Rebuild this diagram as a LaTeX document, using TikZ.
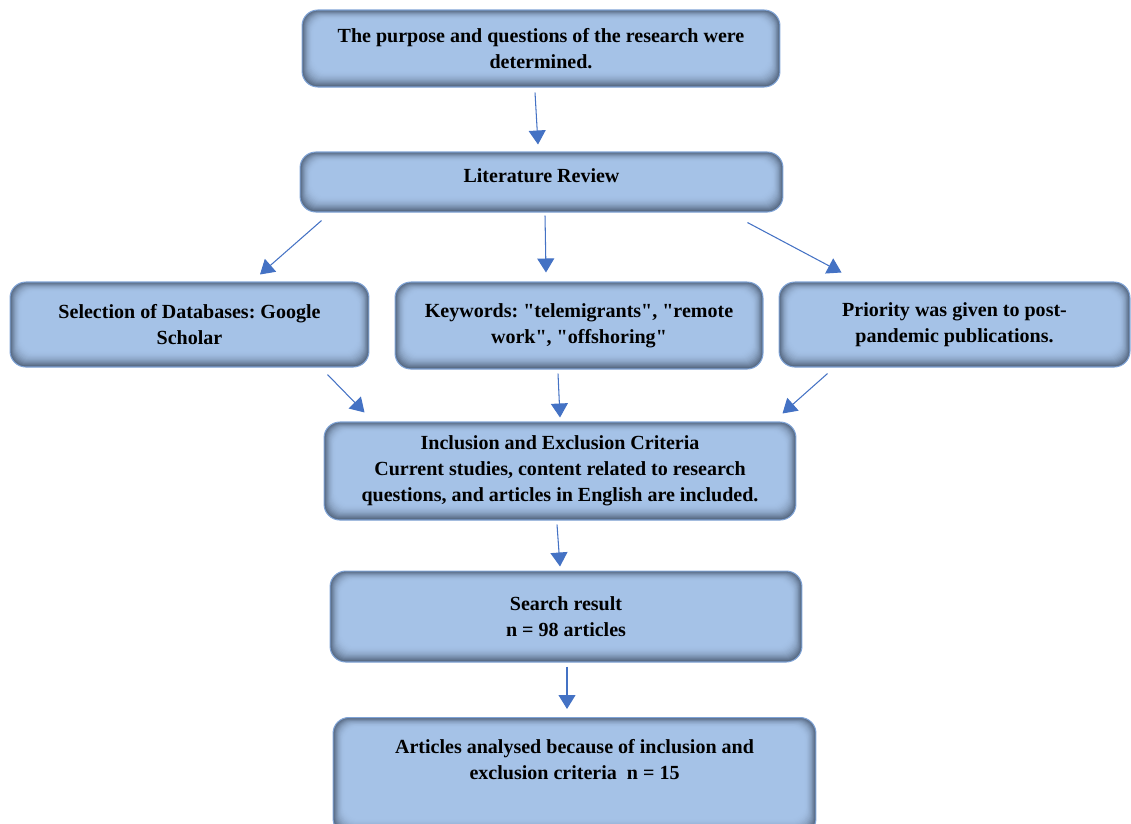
\documentclass[tikz,border=0pt]{standalone}
\usepackage{fontspec}
\setmainfont{Liberation Serif}
\usepackage{tikz}
\usetikzlibrary{arrows.meta}
\frenchspacing

\definecolor{boxfill}{HTML}{A5C2E7}
\definecolor{boxedge}{HTML}{4F6078}
\definecolor{boxline}{HTML}{7FA3D6}
\definecolor{arrowblue}{HTML}{4472C4}

\begin{document}
\begin{tikzpicture}[
  x=0.02cm, y=-0.02cm,
  stepbox/.style={draw=boxline, line width=0.6pt, rounded corners=9pt, fill=boxedge,
    align=center, font=\fontsize{11.4}{14.8}\selectfont\bfseries, inner sep=4pt,
    path picture={
      \foreach \k [evaluate=\k as \pc using int(100*(1-(1-\k/16)^2))] in {1,...,16}
        \fill[boxfill!\pc!boxedge, rounded corners=8pt]
          ([shift={({\k*0.4pt},{-\k*0.34pt})}]path picture bounding box.north west) rectangle
          ([shift={({-\k*0.4pt},{\k*0.55pt})}]path picture bounding box.south east);
    }},
  link/.style={draw=arrowblue, line width=0.6pt, -{Triangle[width=0.34cm, length=0.28cm]}, arrowblue}
]
\useasboundingbox (0,0) rectangle (1131,823);
\begin{scope}
\clip (0,0) rectangle (1131,823);
\node[stepbox, minimum width=9.56cm, minimum height=1.54cm] (purpose) at (541,48.5)
  {The purpose and questions of the research were\\determined.};
\node[stepbox, minimum width=9.66cm, minimum height=1.2cm, text depth=7pt] (review) at (541.5,182)
  {Literature Review};

\node[stepbox, minimum width=7.18cm, minimum height=1.7cm] (databases) at (189.5,324.5)
  {Selection of Databases: Google\\Scholar};
\node[stepbox, minimum width=7.36cm, minimum height=1.74cm] (keywords) at (579,325.5)
  {Keywords: \textquotedbl telemigrants\textquotedbl, \textquotedbl remote\\work\textquotedbl, \textquotedbl offshoring\textquotedbl};
\node[stepbox, minimum width=7.02cm, minimum height=1.7cm] (priority) at (954.5,324.5)
  {Priority was given to post-\\pandemic publications.};

\node[stepbox, minimum width=9.44cm, minimum height=1.96cm] (criteria) at (560,471)
  {Inclusion and Exclusion Criteria\\Current studies, content related to research\\questions, and articles in English are included.};
\node[stepbox, minimum width=9.44cm, minimum height=1.82cm] (result) at (566,616.5)
  {Search result\\n = 98 articles};
\node[stepbox, minimum width=9.66cm, minimum height=2.34cm, text depth=19pt] (analysed) at (574.5,776)
  {Articles analysed because of inclusion and\\exclusion criteria~ n = 15};
\end{scope}

% connectors
\draw[link] ([shift={(-6,5)}]purpose.south) -- ([shift={(-3.5,-7)}]review.north);
\draw[link] ([shift={(22,8)}]review.south west) -- ([shift={(70.5,-7)}]databases.north);
\draw[link] ([shift={(3.5,3)}]review.south) -- ([shift={(-33,-9)}]keywords.north);
\draw[link] ([shift={(-36,10)}]review.south east) -- ([shift={(63,-9)}]priority.north west);
\draw[link] ([shift={(-42,7)}]databases.south east) -- ([shift={(41,-9)}]criteria.north west);
\draw[link] ([shift={(-21,4)}]keywords.south) -- ([shift={(0,-4)}]criteria.north);
\draw[link] ([shift={(49,6)}]priority.south west) -- ([shift={(-14,-8)}]criteria.north east);
\draw[link] ([shift={(-3,4)}]criteria.south) -- ([shift={(-6,-4)}]result.north);
\draw[link] ([shift={(1,4)}]result.south) -- ([shift={(-7.5,-8)}]analysed.north);
\end{tikzpicture}
\end{document}
